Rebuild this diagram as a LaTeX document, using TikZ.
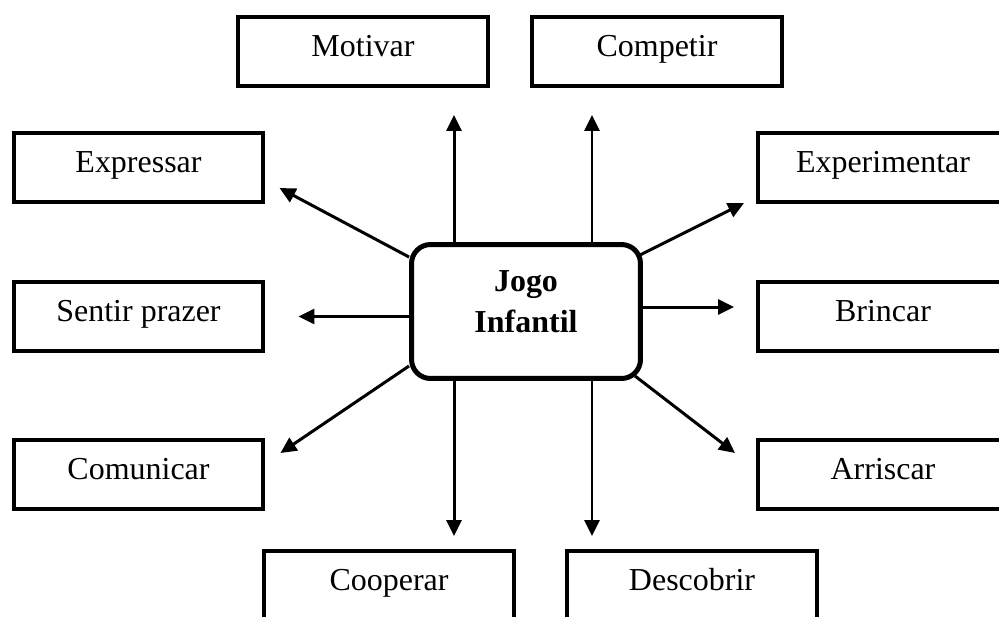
\documentclass[tikz,border=0pt]{standalone}
\usepackage{fontspec}
\setmainfont{Liberation Serif}
\usetikzlibrary{arrows.meta, positioning, calc}

\begin{document}
\begin{tikzpicture}[x=0.02cm, y=-0.02cm,
    goal/.style={draw, line width=0.08cm, minimum width=5cm, minimum height=1.38cm, inner sep=0pt,
                 font=\fontsize{18.2}{22}\selectfont, text height=0.44cm, text depth=0.26cm},
    hub/.style={draw, line width=0.1cm, rounded corners=0.38cm, minimum width=4.58cm, minimum height=2.68cm,
                font=\fontsize{18.2}{23.3}\selectfont\bfseries, align=center},
    arrow/.style={-{Triangle[length=0.32cm, width=0.3cm]}, line width=0.06cm}
  ]
  \clip (0,0) rectangle (999,616);

  \node[hub] (jogo) at (526,311.5) {Jogo\\Infantil\rule[-0.4cm]{0pt}{0.4cm}};

  \node[goal] (motivar) at (363,51.5) {Motivar};
  \node[goal] (competir) at (657,51.5) {Competir};
  \node[goal] (expressar) at (138.5,167.5) {Expressar};
  \node[goal] (experimentar) at (883,167.5) {Experimentar};
  \node[goal] (sentir) at (138.5,316.5) {Sentir prazer};
  \node[goal] (brincar) at (883,316.5) {Brincar};
  \node[goal] (comunicar) at (138.5,474.5) {Comunicar};
  \node[goal] (arriscar) at (883,474.5) {Arriscar};
  \node[goal] (cooperar) at (389,585.5) {Cooperar};
  \node[goal] (descobrir) at (692,585.5) {Descobrir};

  \coordinate (lcol) at ([xshift=-1.44cm]jogo.north);
  \coordinate (rcol) at ([xshift=1.32cm]jogo.north);
  \coordinate (mid) at ([yshift=0.09cm]jogo.east);

  \draw[arrow, shorten >=0.54cm] (lcol) -- (lcol |- motivar.south);
  \draw[arrow, shorten >=0.54cm] (rcol) -- (rcol |- competir.south);
  \draw[arrow, shorten >=0.26cm] (lcol |- jogo.south) -- (lcol |- cooperar.north);
  \draw[arrow, shorten >=0.26cm] (rcol |- jogo.south) -- (rcol |- descobrir.north);

  \draw[arrow, shorten >=0.66cm] (jogo.west |- sentir.east) -- (sentir.east);
  \draw[arrow, shorten >=0.44cm] (mid) -- (mid -| brincar.west);

  \draw[arrow] ([yshift=-0.3cm]jogo.north west) -- ([xshift=0.28cm, yshift=0.32cm]expressar.south east);
  \draw[arrow] ([xshift=-0.06cm, yshift=-0.26cm]jogo.north east) -- ([xshift=-0.24cm, yshift=0.02cm]experimentar.south west);
  \draw[arrow] ([yshift=0.3cm]jogo.south west) -- ([xshift=0.3cm, yshift=-0.3cm]comunicar.north east);
  \draw[arrow] ([xshift=-0.16cm, yshift=0.1cm]jogo.south east) -- ([xshift=-0.42cm, yshift=-0.3cm]arriscar.north west);
\end{tikzpicture}
\end{document}
